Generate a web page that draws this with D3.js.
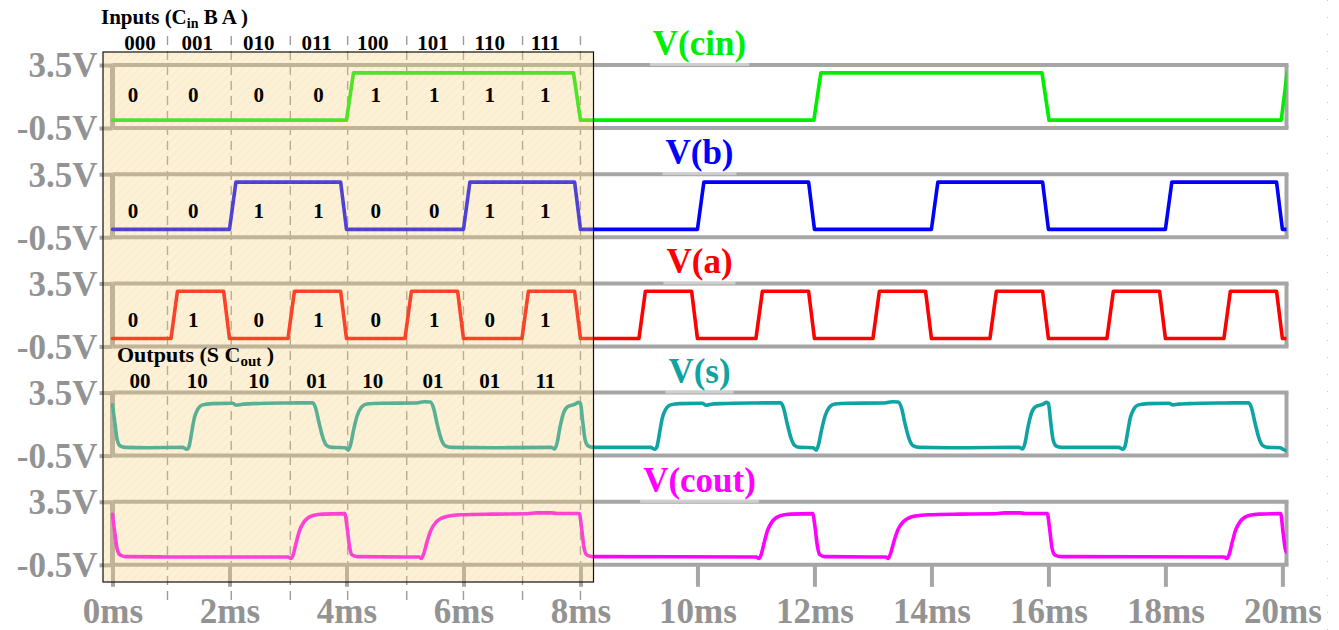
<!DOCTYPE html>
<html><head><meta charset="utf-8">
<script src="https://cdn.jsdelivr.net/npm/d3@7"></script>
<style>
html,body{margin:0;padding:0;background:#fff;}
svg{display:block;}
.lbl{font-family:"Liberation Serif","Times New Roman",serif;font-weight:bold;}
</style></head><body>
<svg id="chart" width="1339" height="630"></svg>
<script>
// ---------- data (time in ms, level in V) ----------
const timeTicks = [0, 2, 4, 6, 8, 10, 12, 14, 16, 18, 20];
const voltTicks = [-0.5, 3.5];
const seriesNames = ["V(cin)", "V(b)", "V(a)", "V(s)", "V(cout)"];

const vCin = [[0,0],[4.0,0],[4.12,3.0],[7.88,3.0],[8.0,0],[11.99,0],[12.11,3.0],[15.89,3.0],[16.01,0],
  [19.98,0],[20.08,3.0]];

const vB = [[0,0],[2.0,0],[2.11,3.0],[3.9,3.0],[4.0,0],[6.0,0],[6.11,3.0],[7.9,3.0],[8.0,0],
  [10.0,0],[10.11,3.0],[11.9,3.0],[12.0,0],[14.0,0],[14.11,3.0],[15.9,3.0],[16.0,0],
  [18.0,0],[18.11,3.0],[19.9,3.0],[20.0,0],[20.07,0]];

const vA = [[0,0],[1.0,0],[1.11,3.0],[1.9,3.0],[2.0,0],[3.0,0],[3.11,3.0],[3.9,3.0],[4.0,0],
  [5.0,0],[5.11,3.0],[5.9,3.0],[6.0,0],[7.0,0],[7.11,3.0],[7.9,3.0],[8.0,0],
  [9.0,0],[9.11,3.0],[9.9,3.0],[10.0,0],[11.0,0],[11.11,3.0],[11.9,3.0],[12.0,0],
  [13.0,0],[13.11,3.0],[13.9,3.0],[14.0,0],[15.0,0],[15.11,3.0],[15.9,3.0],[16.0,0],
  [17.0,0],[17.11,3.0],[17.9,3.0],[18.0,0],[19.0,0],[19.11,3.0],[19.9,3.0],[20.0,0],[20.07,0]];

const vS = [[0,2.72],[0.04,1.6],[0.08,0.5],[0.13,0.12],[0.22,0.02],[0.6,0.0],[1.2,0.02],[1.27,-0.1],
  [1.31,0.1],[1.35,0.9],[1.4,1.9],[1.46,2.45],[1.54,2.72],[1.7,2.8],[2.05,2.82],[2.12,2.7],[2.2,2.75],
  [2.4,2.8],[3.0,2.84],[3.42,2.85],[3.47,2.55],[3.53,1.6],[3.6,0.6],[3.66,0.15],[3.75,0.02],[3.98,0.0],
  [4.03,-0.15],[4.07,0.2],[4.12,1.1],[4.18,2.0],[4.25,2.55],[4.35,2.78],[4.6,2.82],[5.2,2.84],[5.33,2.92],
  [5.43,2.9],[5.49,2.5],[5.55,1.5],[5.62,0.55],[5.69,0.12],[5.8,0.02],[6.5,0.0],[7.5,0.02],[7.56,-0.08],
  [7.6,0.3],[7.65,1.3],[7.71,2.2],[7.78,2.6],[7.9,2.75],[7.97,2.88],[8.0,2.8],[8.04,1.6],[8.08,0.5],
  [8.13,0.12],[8.22,0.02],
  [9.2,0.02],[9.27,-0.1],[9.31,0.1],[9.35,0.9],[9.4,1.9],[9.46,2.45],[9.54,2.72],[9.7,2.8],[10.08,2.82],
  [10.15,2.7],[10.23,2.76],[10.4,2.8],[11.0,2.84],[11.42,2.85],[11.47,2.55],[11.53,1.6],[11.6,0.6],
  [11.66,0.15],[11.75,0.02],[11.98,0.0],[12.03,-0.15],[12.07,0.2],[12.12,1.1],[12.18,2.0],[12.25,2.55],
  [12.35,2.78],[12.6,2.82],[13.2,2.84],[13.33,2.92],[13.43,2.9],[13.49,2.5],[13.55,1.5],[13.62,0.55],
  [13.69,0.12],[13.8,0.02],[14.5,0.0],[15.5,0.02],[15.56,-0.08],[15.6,0.3],[15.65,1.3],[15.71,2.2],
  [15.78,2.6],[15.9,2.75],[15.97,2.88],[16.0,2.8],[16.04,1.6],[16.08,0.5],[16.13,0.12],[16.22,0.02],
  [17.2,0.02],[17.27,-0.1],[17.31,0.1],[17.35,0.9],[17.4,1.9],[17.46,2.45],[17.54,2.72],[17.7,2.8],
  [18.06,2.82],[18.13,2.72],[18.22,2.77],[18.4,2.8],[19.0,2.84],[19.42,2.85],[19.47,2.55],[19.53,1.6],
  [19.6,0.6],[19.66,0.15],[19.75,0.02],[19.96,0.0],[20.02,-0.12],[20.07,-0.18]];

const vCout = [[0,2.7],[0.04,1.5],[0.08,0.5],[0.13,0.12],[0.22,0.02],[1.0,0.0],[3.0,0.0],[3.05,-0.1],
  [3.09,0.15],[3.14,0.9],[3.2,1.7],[3.27,2.2],[3.35,2.5],[3.45,2.65],[3.6,2.72],[3.97,2.75],[4.01,1.9],
  [4.05,0.7],[4.09,0.15],[4.18,0.02],[5.0,0.0],[5.24,0.0],[5.28,-0.1],[5.32,0.2],[5.38,1.0],[5.45,1.75],
  [5.53,2.2],[5.62,2.45],[5.75,2.6],[5.95,2.68],[6.5,2.72],[7.1,2.74],[7.25,2.8],[7.5,2.8],[7.6,2.76],
  [7.98,2.76],[8.02,1.8],[8.06,0.6],[8.11,0.12],[8.2,0.02],
  [11.0,0.0],[11.05,-0.1],[11.09,0.15],[11.14,0.9],[11.2,1.7],[11.27,2.2],[11.35,2.5],[11.45,2.65],
  [11.6,2.72],[11.97,2.75],[12.01,1.9],[12.05,0.7],[12.09,0.15],[12.18,0.02],[13.0,0.0],[13.22,0.0],
  [13.26,-0.1],[13.3,0.2],[13.36,1.0],[13.43,1.75],[13.51,2.2],[13.6,2.45],[13.73,2.6],[13.95,2.68],
  [14.5,2.72],[15.1,2.74],[15.25,2.8],[15.5,2.8],[15.6,2.76],[15.98,2.76],[16.02,1.8],[16.06,0.6],
  [16.11,0.12],[16.2,0.02],
  [19.0,0.0],[19.05,-0.1],[19.09,0.15],[19.14,0.9],[19.2,1.7],[19.27,2.2],[19.35,2.5],[19.45,2.65],
  [19.6,2.72],[19.97,2.75],[20.01,1.6],[20.05,0.5],[20.07,0.3]];

// truth-table annotation for the first 8 ms
const inputCodes  = ["000","001","010","011","100","101","110","111"];
const outputCodes = ["00","10","10","01","10","01","01","11"];
const cinBits = [0,0,0,0,1,1,1,1];
const bBits   = [0,0,1,1,0,0,1,1];
const aBits   = [0,1,0,1,0,1,0,1];
const stateEdges = [0.94, 2.03, 3.04, 4.02, 5.03, 6.0, 7.01, 8.0];   // separators (ms)
const codeTimes  = [0.47, 1.45, 2.5, 3.49, 4.45, 5.48, 6.45, 7.4];  // code label centres (ms)
const bitTimes   = [0.35, 1.38, 2.5, 3.52, 4.5, 5.5, 6.45, 7.4];    // bit label centres (ms)

// ---------- styling / layout ----------
const colors = ["#00ee00", "#0000ff", "#ff0000", "#0fa3a3", "#ff00ff"];
const series = [vCin, vB, vA, vS, vCout];
const smooth = [false, false, false, true, true];
const W = 1339, H = 630;
const plotLeft = 112.5, plotRight = 1286.5;
const paneTop0 = 65, paneStep = 109.2, paneH = 63;
const frameColor = "#a6a6a6", axisTextColor = "#939393";
const FONT = '"Liberation Serif","Times New Roman",serif';

const svg = d3.select("#chart");
svg.append("rect").attr("width", W).attr("height", H).attr("fill", "#fff");

const defs = svg.append("defs");
const pat = defs.append("pattern").attr("id", "hatch").attr("patternUnits", "userSpaceOnUse")
  .attr("width", 8).attr("height", 8);
pat.append("path").attr("d", "M-2,2 L2,-2 M0,8 L8,0 M6,10 L10,6")
  .attr("stroke", "rgba(215,165,80,0.07)").attr("stroke-width", 2);

const x = d3.scaleLinear().domain([0, 20.07]).range([plotLeft, plotRight]);

// faint dotted guide at the far right
svg.append("line").attr("x1", 1327.5).attr("x2", 1327.5).attr("y1", 0).attr("y2", H)
  .attr("stroke", "#c8c8c8").attr("stroke-width", 1).attr("stroke-dasharray", "1,16");

// dashed state separators
svg.append("g").selectAll("line").data(stateEdges).join("line")
  .attr("x1", d => x(d)).attr("x2", d => x(d)).attr("y1", 36).attr("y2", 600)
  .attr("stroke", "#9c9c9c").attr("stroke-width", 1.4).attr("stroke-dasharray", "9,6");

const panes = [];
series.forEach((data, i) => {
  const top = paneTop0 + i * paneStep;
  const y = d3.scaleLinear().domain([-0.5, 3.5]).range([top + paneH, top]);
  panes.push({ top, y });
  const g = svg.append("g");

  // frame
  g.append("line").attr("x1", plotLeft).attr("x2", plotRight + 2).attr("y1", y(3.5)).attr("y2", y(3.5))
    .attr("stroke", frameColor).attr("stroke-width", 4);
  g.append("line").attr("x1", plotLeft).attr("x2", plotRight + 2).attr("y1", y(-0.5)).attr("y2", y(-0.5))
    .attr("stroke", frameColor).attr("stroke-width", 4);
  g.append("line").attr("x1", plotRight).attr("x2", plotRight).attr("y1", top).attr("y2", top + paneH)
    .attr("stroke", frameColor).attr("stroke-width", 4);
  g.append("line").attr("x1", plotLeft).attr("x2", plotLeft).attr("y1", top).attr("y2", top + paneH)
    .attr("stroke", frameColor).attr("stroke-width", 5);

  // voltage axis
  const ax = g.append("g").attr("transform", `translate(${plotLeft},0)`)
    .call(d3.axisLeft(y).tickValues(voltTicks).tickSize(13).tickPadding(2).tickFormat(v => v + "V"));
  ax.select(".domain").remove();
  ax.selectAll(".tick line").attr("stroke", frameColor).attr("stroke-width", 4);
  ax.selectAll(".tick text").attr("fill", axisTextColor).attr("font-family", FONT)
    .attr("font-weight", "bold").attr("font-size", 35).attr("dy", "0.34em");

  // waveform
  const clipId = "clip" + i;
  defs.append("clipPath").attr("id", clipId).append("rect")
    .attr("x", plotLeft - 2).attr("y", top - 8).attr("width", plotRight - plotLeft + 2).attr("height", paneH + 16);
  const line = d3.line().x(d => x(d[0])).y(d => y(d[1]))
    .curve(smooth[i] ? d3.curveMonotoneX : d3.curveLinear);
  g.append("path").datum(data).attr("clip-path", `url(#${clipId})`)
    .attr("d", line).attr("fill", "none").attr("stroke", colors[i])
    .attr("stroke-width", 3.6).attr("stroke-linejoin", "round").attr("stroke-linecap", "round");
});

// time axis below the last pane
const last = panes[panes.length - 1];
const xAxis = svg.append("g").attr("transform", `translate(0,${last.top + paneH})`)
  .call(d3.axisBottom(x).tickValues(timeTicks).tickSize(22).tickPadding(11).tickFormat(t => t + "ms"));
xAxis.select(".domain").remove();
xAxis.selectAll(".tick line").attr("stroke", frameColor).attr("stroke-width", 4);
xAxis.selectAll(".tick text").attr("fill", axisTextColor).attr("font-family", FONT)
  .attr("font-weight", "bold").attr("font-size", 35);

// pane titles with a light backing over the frame line
panes.forEach((p, i) => {
  const tg = svg.append("g");
  const bg = tg.append("rect");
  const t = tg.append("text").attr("class", "lbl").attr("x", (plotLeft + plotRight) / 2)
    .attr("y", p.top - 10).attr("text-anchor", "middle").attr("font-size", 35)
    .attr("fill", colors[i]).text(seriesNames[i]);
  const b = t.node().getBBox();
  bg.attr("x", b.x - 3).attr("y", p.top - 2).attr("width", b.width + 6).attr("height", 3)
    .attr("fill", "#fff").attr("opacity", 0.45);
});

// highlighted truth-table region
const hl = { x0: 103, x1: 593.5, y0: 52, y1: 582 };
svg.append("rect").attr("x", hl.x0).attr("y", hl.y0).attr("width", hl.x1 - hl.x0).attr("height", hl.y1 - hl.y0)
  .attr("fill", "rgba(250,210,125,0.30)");
svg.append("rect").attr("x", hl.x0).attr("y", hl.y0).attr("width", hl.x1 - hl.x0).attr("height", hl.y1 - hl.y0)
  .attr("fill", "url(#hatch)").attr("stroke", "#111").attr("stroke-width", 1.2);

// annotation text
const ann = svg.append("g").attr("font-family", FONT).attr("font-weight", "bold").attr("fill", "#000");
const inTitle = ann.append("text").attr("x", 101).attr("y", 24).attr("font-size", 21);
inTitle.append("tspan").text("Inputs (C");
inTitle.append("tspan").attr("font-size", 14).attr("dy", 4).text("in");
inTitle.append("tspan").attr("dy", -4).text(" B A )");

ann.selectAll(".code").data(inputCodes).join("text")
  .attr("x", (d, k) => x(codeTimes[k])).attr("y", 50).attr("text-anchor", "middle")
  .attr("font-size", 21).text(d => d);

const bitRows = [
  { bits: cinBits, pane: 0, level: 1.6 },
  { bits: bBits, pane: 1, level: 1.2 },
  { bits: aBits, pane: 2, level: 1.17 }
];
bitRows.forEach(r => {
  const yy = panes[r.pane].y(r.level);
  ann.append("g").selectAll("text").data(r.bits).join("text")
    .attr("x", (d, k) => x(bitTimes[k])).attr("y", yy).attr("dy", "0.34em")
    .attr("text-anchor", "middle").attr("font-size", 21).text(d => d);
});

const outTitle = ann.append("text").attr("x", 117).attr("y", 362).attr("font-size", 22);
outTitle.append("tspan").text("Outputs (S C");
outTitle.append("tspan").attr("font-size", 15).attr("dy", 4).text("out");
outTitle.append("tspan").attr("dy", -4).text(" )");

ann.append("g").selectAll("text").data(outputCodes).join("text")
  .attr("x", (d, k) => x(codeTimes[k])).attr("y", 388).attr("text-anchor", "middle")
  .attr("font-size", 21).text(d => d);
</script>
</body></html>
